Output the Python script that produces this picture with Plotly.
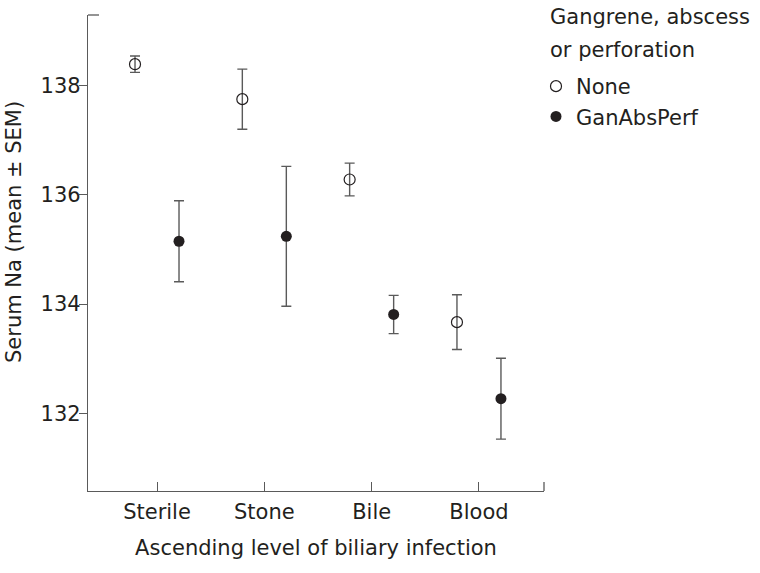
import plotly.graph_objects as go

categories = ["Sterile", "Stone", "Bile", "Blood"]
none_mean = [138.39, 137.75, 136.28, 133.67]
none_sem = [0.15, 0.55, 0.30, 0.50]
gap_mean = [135.15, 135.24, 133.81, 132.27]
gap_sem = [0.74, 1.28, 0.35, 0.74]
y_ticks = [132, 134, 136, 138]

pos = list(range(1, len(categories) + 1))
off = 0.205
ink = "#231f20"
grey = "#5a5a5a"
font = "DejaVu Sans"

W, H = 760, 573
L, T, PW, PH = 88, 15, 456, 476

fig = go.Figure()
fig.add_trace(go.Scatter(
    x=[p - off for p in pos], y=none_mean, mode="markers", name="None",
    marker=dict(symbol="circle-open", size=11, color=ink, line=dict(width=1.2, color=ink)),
    error_y=dict(type="data", array=none_sem, visible=True, color=grey, thickness=1.4, width=5),
))
fig.add_trace(go.Scatter(
    x=[p + off for p in pos], y=gap_mean, mode="markers", name="GanAbsPerf",
    marker=dict(symbol="circle", size=11, color=ink),
    error_y=dict(type="data", array=gap_sem, visible=True, color=grey, thickness=1.4, width=5),
))

fig.update_layout(
    width=W, height=H,
    margin=dict(l=L, r=W - L - PW, t=T, b=H - T - PH, autoexpand=False),
    paper_bgcolor="white", plot_bgcolor="white",
    font=dict(family=font, size=21, color=ink),
    showlegend=True,
    legend=dict(
        xref="container", yref="container",
        x=536/W, xanchor="left", y=1 - 66/H, yanchor="top",
        bgcolor="rgba(0,0,0,0)", font=dict(family=font, size=21, color=ink),
        itemwidth=30, tracegroupgap=0,
    ),
    xaxis=dict(
        range=[0.357, 4.606], tickvals=pos, ticktext=categories,
        showline=True, linecolor=grey, linewidth=1.3,
        ticks="inside", ticklen=9, tickcolor=grey, tickwidth=1.3,
        showgrid=False, zeroline=False, automargin=False,
        ticklabelstandoff=2,
        title=dict(text="Ascending level of biliary infection", standoff=16,
                   font=dict(family=font, size=21, color=ink)),
        tickfont=dict(size=21),
    ),
    yaxis=dict(
        range=[130.58, 139.29], tickvals=y_ticks,
        showline=True, linecolor=grey, linewidth=1.3,
        ticks="outside", ticklen=8, tickcolor=grey, tickwidth=1.3,
        showgrid=False, zeroline=False, automargin=False,
        ticklabelstandoff=-6,
        tickfont=dict(size=21),
    ),
    annotations=[
        dict(text="Serum Na (mean \u00b1 SEM)", xref="paper", yref="paper",
             x=0, xshift=-74, y=(T + PH - 232) / PH, xanchor="center", yanchor="middle",
             textangle=-90, showarrow=False, font=dict(family=font, size=21, color=ink)),
        dict(text="Gangrene, abscess", xref="paper", yref="paper",
             x=1, xshift=4, y=(T + PH - 17) / PH, xanchor="left", yanchor="middle",
             showarrow=False, font=dict(family=font, size=21, color=ink)),
        dict(text="or perforation", xref="paper", yref="paper",
             x=1, xshift=4, y=(T + PH - 50) / PH, xanchor="left", yanchor="middle",
             showarrow=False, font=dict(family=font, size=21, color=ink)),
    ],
    shapes=[
        dict(type="line", xref="paper", yref="paper", x0=0, x1=11/PW, y0=1, y1=1,
             line=dict(color=grey, width=1.3)),
        dict(type="line", xref="paper", yref="paper", x0=1, x1=1, y0=0, y1=9/PH,
             line=dict(color=grey, width=1.3)),
    ],
)

fig.write_html("out.html", config={"displayModeBar": False},
               post_script="document.body.style.margin='0';")
